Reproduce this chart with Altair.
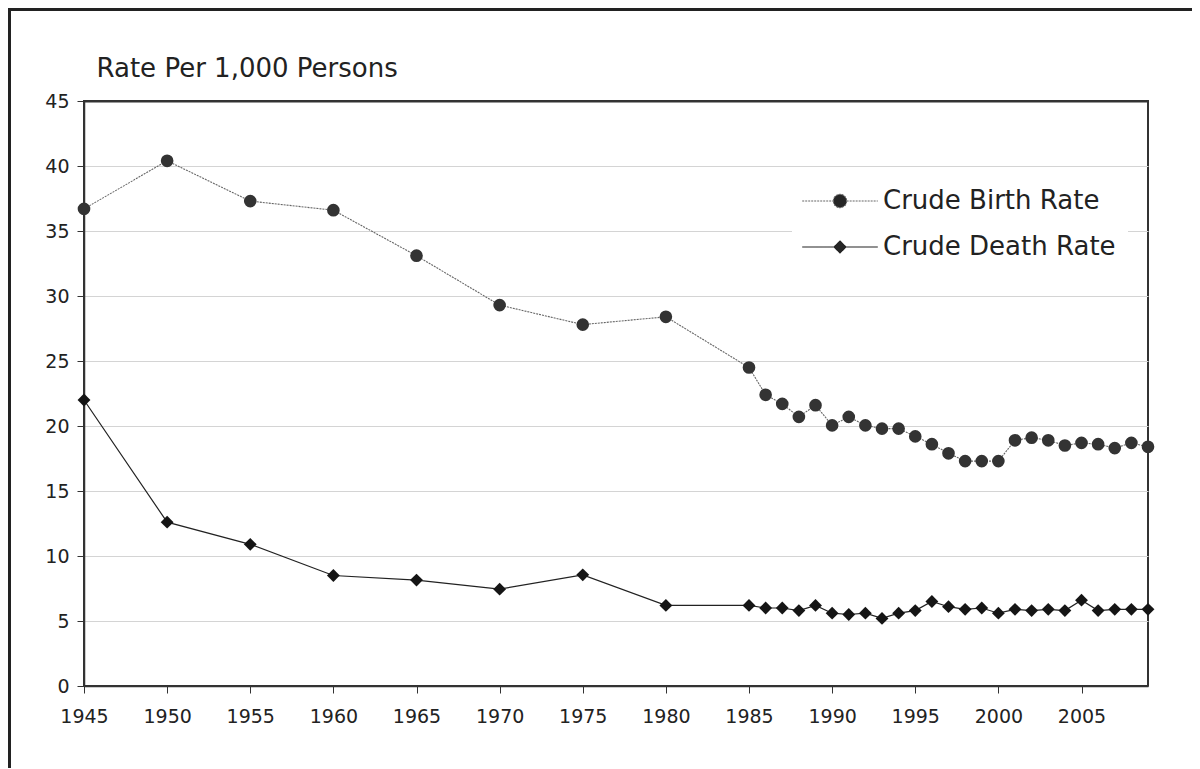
import altair as alt
import pandas as pd

years = [1945, 1950, 1955, 1960, 1965, 1970, 1975, 1980,
         1985, 1986, 1987, 1988, 1989, 1990, 1991, 1992, 1993, 1994,
         1995, 1996, 1997, 1998, 1999, 2000, 2001, 2002, 2003, 2004,
         2005, 2006, 2007, 2008, 2009]
birth = [36.7, 40.4, 37.3, 36.6, 33.1, 29.3, 27.8, 28.4,
         24.5, 22.4, 21.7, 20.7, 21.6, 20.05, 20.7, 20.05, 19.8, 19.8,
         19.2, 18.6, 17.9, 17.3, 17.3, 17.3, 18.9, 19.1, 18.9, 18.5,
         18.7, 18.6, 18.3, 18.7, 18.4]
death = [22.0, 12.6, 10.9, 8.5, 8.15, 7.45, 8.55, 6.2,
         6.2, 6.0, 6.0, 5.8, 6.2, 5.6, 5.5, 5.6, 5.2, 5.6,
         5.8, 6.5, 6.1, 5.9, 6.0, 5.6, 5.9, 5.8, 5.9, 5.8,
         6.6, 5.8, 5.9, 5.9, 5.9]
series_names = ["Crude Birth Rate", "Crude Death Rate"]
x_ticks = [1945, 1950, 1955, 1960, 1965, 1970, 1975, 1980, 1985, 1990, 1995, 2000, 2005]
y_ticks = [0, 5, 10, 15, 20, 25, 30, 35, 40, 45]

df = pd.DataFrame({
    "year": years + years,
    "value": birth + death,
    "series": [series_names[0]] * len(years) + [series_names[1]] * len(years),
})

FONT = "DejaVu Sans"
W, H = 1064, 585

x_enc = alt.X("year:Q", scale=alt.Scale(domain=[1945, 2009], nice=False, zero=False),
              axis=alt.Axis(values=x_ticks, format="d", title=None, grid=False,
                            labelFontSize=19, labelFont=FONT, labelColor="#222",
                            labelFlush=False,
                            tickSize=7, tickColor="#333", domainColor="#333",
                            domainWidth=1.5, labelPadding=14))
y_enc = alt.Y("value:Q", scale=alt.Scale(domain=[0, 45], nice=False),
              axis=alt.Axis(values=y_ticks, title="Rate Per 1,000 Persons",
                            titleAngle=0, titleAlign="left", titleBaseline="alphabetic",
                            titleX=12, titleY=-25, titleFontSize=26, titleFont=FONT,
                            titleFontWeight="normal", titleColor="#222",
                            labelFontSize=19, labelFont=FONT, labelColor="#222",
                            labelFlush=False,
                            tickSize=7, tickColor="#333", domainColor="#333",
                            domainWidth=1.5, labelPadding=8,
                            grid=True,
                            gridColor=alt.condition("datum.value == 45", alt.value("#333"), alt.value("#d4d4d4")),
                            gridWidth=alt.condition("datum.value == 45", alt.value(2), alt.value(1.2))))

base = alt.Chart(df).encode(x=x_enc, y=y_enc)

birth_line = base.transform_filter(alt.datum.series == series_names[0]).mark_line(
    color="#666", strokeWidth=1.1, strokeDash=[2, 1])
death_line = base.transform_filter(alt.datum.series == series_names[1]).mark_line(
    color="#222", strokeWidth=1.2)
birth_pts = base.transform_filter(alt.datum.series == series_names[0]).mark_point(
    shape="circle", filled=True, size=160, color="#333", opacity=1)
death_pts = base.transform_filter(alt.datum.series == series_names[1]).mark_point(
    shape="diamond", filled=True, size=165, color="#151515", opacity=1)

path_b = "M-5.4,0L-0.95,0M0.95,0L5.4,0M-0.95,0A0.95,0.95,0,1,1,0.95,0A0.95,0.95,0,1,1,-0.95,0Z"
path_d = "M-5.4,0L-0.85,0M0.85,0L5.4,0M0,-0.85L0.85,0L0,0.85L-0.85,0Z"

leg = alt.Legend(title=None, orient="none", legendX=708, legendY=76,
                 symbolSize=196, symbolOffset=24, labelOffset=30,
                 labelFontSize=26, labelFont=FONT, labelColor="#222", labelLimit=500,
                 symbolOpacity=1, symbolFillColor="#262626", symbolStrokeColor="#444",
                 symbolStrokeWidth=1.1, rowPadding=20, padding=11,
                 fillColor="white", strokeColor="white")

legend_layer = base.mark_point(filled=True, opacity=0, fill="#262626").encode(
    shape=alt.Shape("series:N", scale=alt.Scale(domain=series_names, range=[path_b, path_d]), legend=leg),
    stroke=alt.Stroke("series:N", scale=alt.Scale(domain=series_names, range=["#666", "#222"]), legend=leg),
    strokeDash=alt.StrokeDash("series:N", scale=alt.Scale(domain=series_names, range=[[2, 1], [1, 0]]), legend=leg),
)

frame_left = alt.Chart(df).mark_rule(color="#222", strokeWidth=3).encode(
    x=alt.value(-74.5), y=alt.value(-93), y2=alt.value(H + 100))
frame_outer_top = alt.Chart(df).mark_rule(color="#222", strokeWidth=3).encode(
    x=alt.value(-76), x2=alt.value(W + 80), y=alt.value(-91.5))

chart = alt.layer(
    frame_left, frame_outer_top, birth_line, death_line, legend_layer, birth_pts, death_pts
).properties(
    width=W, height=H,
    autosize=alt.AutoSizeParams(type="none"),
    padding={"left": 76, "top": 93, "right": 44, "bottom": 82},
).configure(
    background="white"
).configure_view(
    stroke="#333", strokeWidth=2
)

chart.save("out.html", embed_options={"renderer": "svg", "actions": False})
